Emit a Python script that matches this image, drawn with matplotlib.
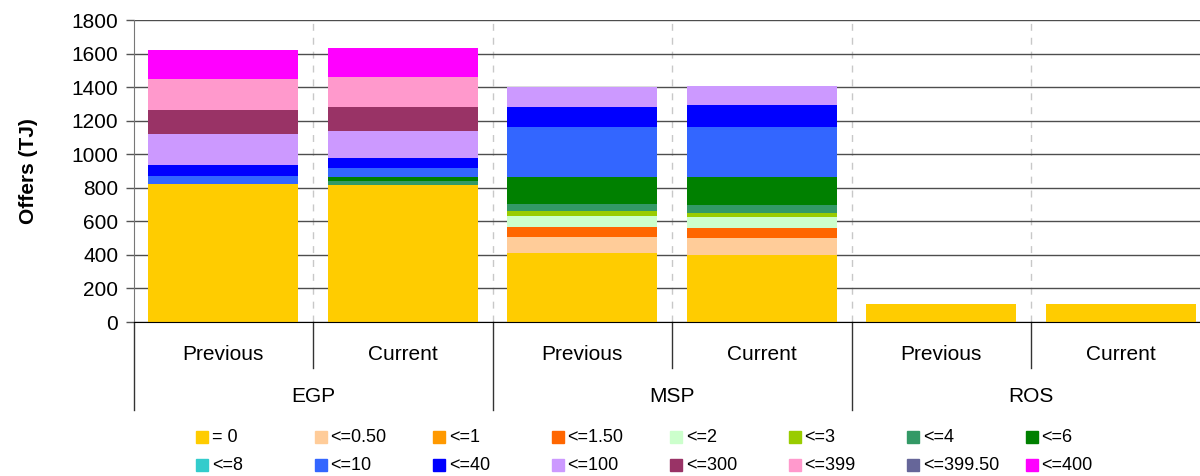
import numpy as np
import matplotlib
matplotlib.use('Agg')
import matplotlib.pyplot as plt
from matplotlib.patches import Rectangle

plt.rcParams['font.family'] = ['Liberation Sans', 'DejaVu Sans']

groups  = ['EGP', 'MSP', 'ROS']
periods = ['Previous', 'Current']

bands = ['= 0', '<=0.50', '<=1', '<=1.50', '<=2', '<=3', '<=4', '<=6',
         '<=8', '<=10', '<=40', '<=100', '<=300', '<=399', '<=399.50', '<=400']
colors = ['#FFCC00', '#FFCC99', '#FF9900', '#FF6600', '#CCFFCC', '#99CC00', '#339966', '#008000',
          '#33CCCC', '#3366FF', '#0000FF', '#CC99FF', '#993366', '#FF99CC', '#666699', '#FF00FF']

# order: EGP prev, EGP cur, MSP prev, MSP cur, ROS prev, ROS cur
eq0     = [824, 816, 411, 399, 107, 107]
le0_50  = [0, 0, 96, 102, 0, 0]
le1     = [0, 0, 0, 0, 0, 0]
le1_50  = [0, 0, 59, 59, 0, 0]
le2     = [0, 0, 66, 66, 0, 0]
le3     = [0, 0, 30, 24, 0, 0]
le4     = [0, 24, 41, 47, 0, 0]
le6     = [0, 24, 161, 167, 0, 0]
le8     = [0, 0, 0, 0, 0, 0]
le10    = [46, 54, 298, 298, 0, 0]
le40    = [66, 59, 119, 131, 0, 0]
le100   = [184, 161, 118, 115, 0, 0]
le300   = [143, 143, 0, 0, 0, 0]
le399   = [185, 179, 0, 0, 0, 0]
le399_5 = [0, 0, 0, 0, 0, 0]
le400   = [173, 175, 0, 0, 0, 0]

series = [eq0, le0_50, le1, le1_50, le2, le3, le4, le6,
          le8, le10, le40, le100, le300, le399, le399_5, le400]

fig = plt.figure(figsize=(12, 4.76), dpi=100)
ax = fig.add_axes([133.5/1200, 154/476, 1077/1200, 302/476])

tama = 15
x = np.arange(6) + 0.5

###grid
ax.set_axisbelow(True)
ax.grid(axis='y', color='#4d4d4d', linewidth=1.0)
for xv in range(1, 6):
    ax.axvline(xv, color='#c8c8c8', linewidth=1.0, dashes=(5, 5), zorder=0)

bottom = np.zeros(6)
for vals, col, lab in zip(series, colors, bands):
    vals = np.array(vals, dtype=float)
    ax.bar(x, vals, width=0.836, bottom=bottom, color=col, label=lab, linewidth=0, zorder=2)
    bottom += vals

ax.set_xlim(0, 6)
ax.set_ylim(0, 1800)
ax.set_yticks(np.arange(0, 1801, 200))
ax.tick_params(axis='y', labelsize=tama, direction='out', length=6, width=1, color='#555555', pad=5)
ax.set_xticks([])

for s in ['top', 'right']:
    ax.spines[s].set_visible(False)
ax.spines['left'].set_color('#777777')
ax.spines['bottom'].set_color('black')

fig.text(28/1200, 1 - 171/476, 'Offers (TJ)', fontsize=15, fontweight='bold',
         rotation=90, ha='center', va='center')

###multi-level category axis
trans = ax.get_xaxis_transform()
for i in range(6):
    ax.text(i + 0.5, -0.109, periods[i % 2], transform=trans, ha='center', va='center', fontsize=tama)
for g in range(3):
    ax.text(2*g + 1, -0.248, groups[g], transform=trans, ha='center', va='center', fontsize=tama)
for xv in [1, 3, 5]:
    ax.plot([xv, xv], [0, -0.152], transform=trans, color='#333333', lw=1, clip_on=False)
for xv in [0, 2, 4, 6]:
    ax.plot([xv, xv], [0, -0.291], transform=trans, color='#333333', lw=1, clip_on=False)

###legend, row wise like the original
for k, (lab, col) in enumerate(zip(bands, colors)):
    r, c = divmod(k, 8)
    px = 196 + c*118.5
    py = 437 + r*28
    fig.patches.append(Rectangle((px/1200, 1 - (py + 6)/476), 12/1200, 12/476,
                                 transform=fig.transFigure, color=col, figure=fig))
    fig.text((px + 16)/1200, 1 - py/476, lab, fontsize=13, va='center', ha='left')

fig.savefig('out.png', dpi=100)
